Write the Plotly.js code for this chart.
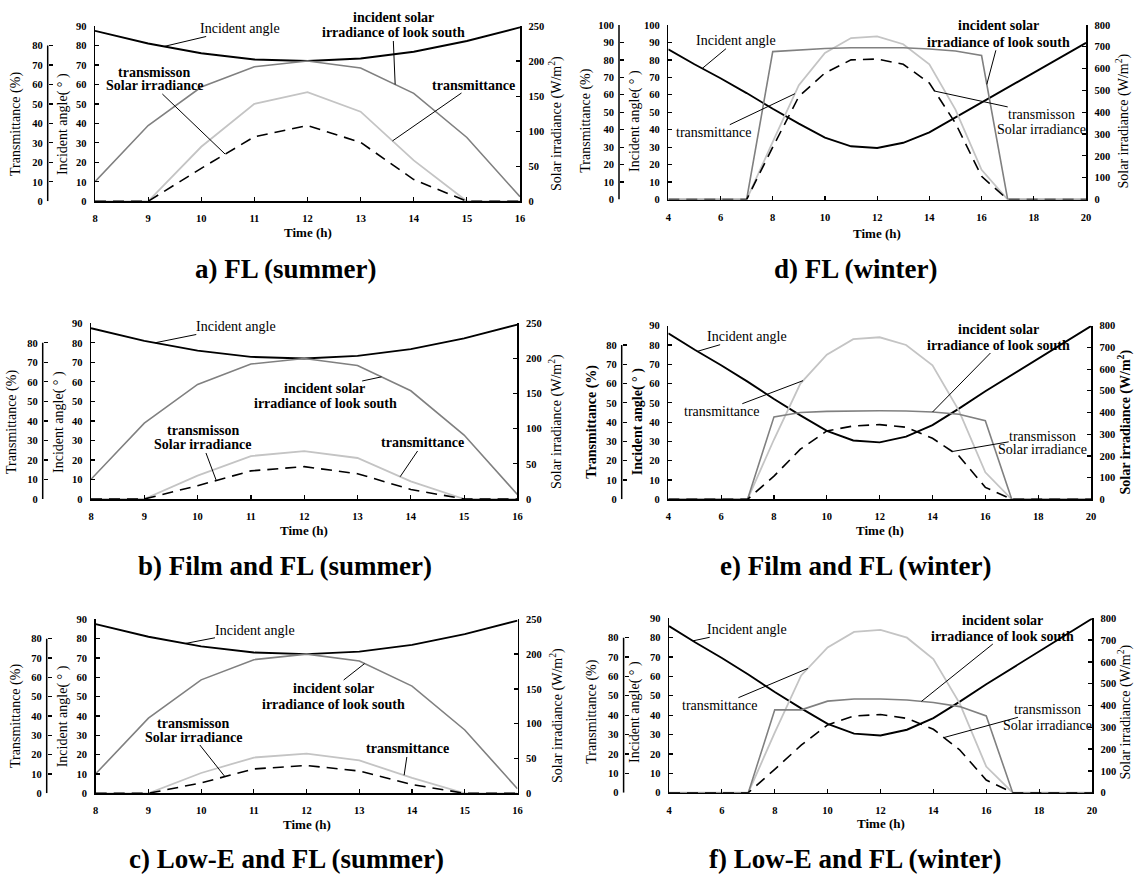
<!DOCTYPE html>
<html><head><meta charset="utf-8">
<script src="https://cdn.plot.ly/plotly-3.0.1.min.js"></script>
<style>html,body{margin:0;padding:0;background:#fff}#chart{width:1135px;height:876px}</style>
</head><body><div id="chart"></div>
<script>
// ---------- data ----------
const summerHours = [8, 9, 10, 11, 12, 13, 14, 15, 16];
const winterHours = [4, 5, 6, 7, 8, 9, 10, 11, 12, 13, 14, 15, 16, 17, 18, 19, 20];

const summerIncidentAngle = [87.5, 81, 76, 72.8, 72, 73.3, 76.8, 82.3, 89.3];
const summerSouthIrradiance = [28, 108, 163, 192, 200, 190, 154, 91, 6.5];

const aTransmittance = [0, 0, 28, 50, 56, 46, 21, 0, 0];
const aTransmitted = [0, 0, 47, 92, 108, 84, 31, 0, 0];
const bTransmittance = [0, 0, 12, 22, 24.5, 21, 9, 0, 0];
const bTransmitted = [0, 0, 19, 40, 46, 36, 13.5, 0, 0];
const cTransmittance = [0, 0, 10.5, 18.5, 20.5, 17, 8, 0, 0];
const cTransmitted = [0, 0, 15, 35, 40, 32, 12.5, 0, 0];

const winterIncidentAngle = [86, 77.5, 69.5, 61, 52, 43.5, 35.5, 30.5, 29.5, 32.5, 38.5, 47, 56, 64.5, 73, 81.5, 89.8];
const dSouthIrradiance = [0, 0, 0, 0, 678, 686, 692, 696, 696, 696, 690, 681, 660, 0, 0, 0, 0];
const dTransmittance = [0, 0, 0, 0, 33, 65.5, 84, 92.5, 93.5, 89, 77.5, 51.5, 17, 0, 0, 0, 0];
const dTransmitted = [0, 0, 0, 0, 240, 472, 580, 640, 644, 620, 534, 350, 106, 0, 0, 0, 0];
const eSouthIrradiance = [0, 0, 0, 0, 380, 400, 405, 408, 408, 407, 402, 392, 362, 0, 0, 0, 0];
const eTransmittance = [0, 0, 0, 0, 31, 60, 75, 83, 84, 80, 69.5, 46, 14, 0, 0, 0, 0];
const eTransmitted = [0, 0, 0, 0, 107, 231, 315, 338, 344, 332, 281, 200, 55, 0, 0, 0, 0];
const fSouthIrradiance = [0, 0, 0, 0, 380, 380, 420, 430, 430, 425, 414, 395, 352, 0, 0, 0, 0];
const fTransmittance = [0, 0, 0, 0, 31, 60.5, 75, 83, 84, 80, 69, 46, 13.5, 0, 0, 0, 0];
const fTransmitted = [0, 0, 0, 0, 107, 218, 311, 352, 359, 341, 291, 196, 58, 0, 0, 0, 0];

const captions = ['a) FL (summer)', 'b) Film and FL (summer)', 'c) Low-E and FL (summer)',
                  'd) FL (winter)', 'e) Film and FL (winter)', 'f) Low-E and FL (winter)'];
const labelAngle = 'Incident angle';
const labelSouth = ['incident solar', 'irradiance of look south'];
const labelTransmitted = ['transmisson', 'Solar irradiance'];
const labelTransmittance = 'transmittance';

// ---------- layout geometry ----------
const W = 1135, H = 876;
const FONT = 'Liberation Serif, Times New Roman, serif';

const panels = [
 {hours: summerHours, angle: summerIncidentAngle, south: summerSouthIrradiance, trans: aTransmittance, transm: aTransmitted,
  x0: 95, x1: 520, yb: 201.3, yt: 26, xmin: 8, xmax: 16, dx: 1, angMax: 90, wMax: 250, wStep: 50, tPos: 47.7, tMax: 80,
  cap: [285, 269], tTitleX: 16, aTitleX: 63, wTitleX: 555, titleY: 124, timeY: 232, boldTitles: false,
  callouts: [
   {lines: [labelAngle], cx: 240, cy: [28.5], series: 'angle', tx: 9.3, bold: false},
   {lines: labelSouth, cx: 393, cy: [17.5, 33], series: 'south', tx: 13.65, arrowLine: 1, bold: true},
   {lines: labelTransmitted, cx: 154, cy: [72, 86], series: 'transm', tx: 10.45, arrowLine: 1, bold: true},
   {lines: [labelTransmittance], cx: 473, cy: [85], series: 'trans', tx: 13.6, bold: true}]},
 {hours: summerHours, angle: summerIncidentAngle, south: summerSouthIrradiance, trans: bTransmittance, transm: bTransmitted,
  x0: 91, x1: 517.4, yb: 499, yt: 323.3, xmin: 8, xmax: 16, dx: 1, angMax: 90, wMax: 250, wStep: 50, tPos: 42.7, tMax: 80,
  cap: [285, 566], tTitleX: 12, aTitleX: 59, wTitleX: 555, titleY: 422, timeY: 530, boldTitles: false,
  callouts: [
   {lines: [labelAngle], cx: 236, cy: [326.5], series: 'angle', tx: 9.2, bold: false},
   {lines: labelSouth, cx: 325, cy: [389, 404], series: 'south', tx: 13.45, arrowLine: 0, bold: true},
   {lines: labelTransmitted, cx: 203, cy: [431, 445], series: 'transm', tx: 10.35, arrowLine: 1, bold: true},
   {lines: [labelTransmittance], cx: 423, cy: [443], series: 'trans', tx: 13.8, bold: true}]},
 {hours: summerHours, angle: summerIncidentAngle, south: summerSouthIrradiance, trans: cTransmittance, transm: cTransmitted,
  x0: 95.7, x1: 517.5, yb: 793.3, yt: 619.3, xmin: 8, xmax: 16, dx: 1, angMax: 90, wMax: 250, wStep: 50, tPos: 46.7, tMax: 80,
  cap: [286, 859], tTitleX: 16, aTitleX: 63.3, wTitleX: 556, titleY: 716, timeY: 824, boldTitles: false,
  callouts: [
   {lines: [labelAngle], cx: 255.5, cy: [630], series: 'angle', tx: 9.7, bold: false},
   {lines: labelSouth, cx: 333.5, cy: [688, 704], series: 'south', tx: 13.1, arrowLine: 0, bold: true},
   {lines: labelTransmitted, cx: 193.5, cy: [723, 737], series: 'transm', tx: 10.45, arrowLine: 1, bold: true},
   {lines: [labelTransmittance], cx: 408, cy: [749], series: 'trans', tx: 13.85, bold: true}]},
 {hours: winterHours, angle: winterIncidentAngle, south: dSouthIrradiance, trans: dTransmittance, transm: dTransmitted,
  x0: 668.3, x1: 1086, yb: 199.5, yt: 25, xmin: 4, xmax: 20, dx: 2, angMax: 100, wMax: 800, wStep: 100, tPos: 619, tMax: 100,
  cap: [855, 269], tTitleX: 585.7, aTitleX: 635, wTitleX: 1122.5, titleY: 121, timeY: 233, boldTitles: false,
  callouts: [
   {lines: [labelAngle], cx: 735.6, cy: [40.7], series: 'angle', tx: 5.3, bold: false},
   {lines: labelSouth, cx: 998, cy: [26, 42.3], series: 'south', tx: 16.2, arrowLine: 1, bold: true},
   {lines: [labelTransmittance], cx: 713, cy: [132.7], series: 'trans', tx: 8.85, bold: false},
   {lines: labelTransmitted, cx: 1041.7, cy: [114.3, 130], series: 'transm', tx: 14.2, arrowLine: 0, bold: false}]},
 {hours: winterHours, angle: winterIncidentAngle, south: eSouthIrradiance, trans: eTransmittance, transm: eTransmitted,
  x0: 668.3, x1: 1091, yb: 499.3, yt: 325.7, xmin: 4, xmax: 20, dx: 2, angMax: 90, wMax: 800, wStep: 100, tPos: 621.7, tMax: 80,
  cap: [855, 566], tTitleX: 591.7, aTitleX: 638.3, wTitleX: 1124.5, titleY: 422, timeY: 530, boldTitles: true,
  callouts: [
   {lines: [labelAngle], cx: 747.5, cy: [336.7], series: 'angle', tx: 5.1, bold: false},
   {lines: labelSouth, cx: 998.3, cy: [329.3, 345], series: 'south', tx: 14.0, arrowLine: 1, bold: true},
   {lines: [labelTransmittance], cx: 721.2, cy: [411.7], series: 'trans', tx: 9.1, bold: false},
   {lines: labelTransmitted, cx: 1042.7, cy: [436, 449.3], series: 'transm', tx: 14.75, arrowLine: 0, bold: false}]},
 {hours: winterHours, angle: winterIncidentAngle, south: fSouthIrradiance, trans: fTransmittance, transm: fTransmitted,
  x0: 669, x1: 1092, yb: 792.7, yt: 618.3, xmin: 4, xmax: 20, dx: 2, angMax: 90, wMax: 800, wStep: 100, tPos: 623.6, tMax: 80,
  cap: [855, 859], tTitleX: 591.7, aTitleX: 635, wTitleX: 1124.5, titleY: 712, timeY: 823, boldTitles: false,
  callouts: [
   {lines: [labelAngle], cx: 747.5, cy: [629.3], series: 'angle', tx: 4.9, bold: false},
   {lines: labelSouth, cx: 1002.8, cy: [620, 636], series: 'south', tx: 13.55, arrowLine: 1, bold: true},
   {lines: [labelTransmittance], cx: 719.4, cy: [705.7], series: 'trans', tx: 9.25, bold: false},
   {lines: labelTransmitted, cx: 1047.2, cy: [709.3, 725], series: 'transm', tx: 14.4, arrowLine: 0, bold: false}]}
];

// ---------- helpers ----------
function xid(i) { return i === 0 ? 'x' : 'x' + (i + 1); }
function yid(n) { return n === 1 ? 'y' : 'y' + n; }
function axKey(id) { return id.charAt(0) + 'axis' + id.slice(1); }
function interp(xs, ys, x) {
  for (let i = 0; i < xs.length - 1; i++) {
    if (x >= xs[i] && x <= xs[i + 1]) {
      const t = (x - xs[i]) / (xs[i + 1] - xs[i]);
      return ys[i] + t * (ys[i + 1] - ys[i]);
    }
  }
  return ys[ys.length - 1];
}

const layout = {
  width: W, height: H, autosize: false,
  margin: {l: 0, r: 0, t: 0, b: 0},
  paper_bgcolor: '#ffffff', plot_bgcolor: 'rgba(0,0,0,0)',
  showlegend: false,
  font: {family: FONT, color: '#000'},
  annotations: [], shapes: []
};
const traces = [];

panels.forEach((p, i) => {
  const xa = xid(i), ya = yid(3 * i + 1), yt = yid(3 * i + 2), yw = yid(3 * i + 3);
  const tickFont = {family: FONT, size: 10.5, color: '#000', weight: 'bold'};
  const common = {showgrid: false, zeroline: false, showline: true, linecolor: '#000', linewidth: 1.5,
                  ticks: 'inside', ticklen: 4, tickwidth: 1.2, tickcolor: '#000', tickfont: tickFont, fixedrange: true};
  layout[axKey(xa)] = Object.assign({}, common, {domain: [p.x0 / W, p.x1 / W], anchor: ya, range: [p.xmin, p.xmax],
      tickmode: 'linear', tick0: p.xmin, dtick: p.dx, ticklabelstandoff: 7});
  layout[axKey(ya)] = Object.assign({}, common, {domain: [1 - p.yb / H, 1 - p.yt / H], anchor: xa, range: [0, p.angMax],
      tickmode: 'linear', tick0: 0, dtick: 10, ticklabelstandoff: 5});
  const tv = []; for (let v = 0; v <= p.tMax; v += 10) tv.push(v);
  layout[axKey(yt)] = Object.assign({}, common, {showline: false, overlaying: ya, anchor: 'free', position: p.tPos / W,
      side: 'left', range: [0, p.angMax], tickmode: 'array', tickvals: tv, ticklabelstandoff: 5});
  layout[axKey(yw)] = Object.assign({}, common, {overlaying: ya, side: 'right', anchor: xa, range: [0, p.wMax],
      tickmode: 'linear', tick0: 0, dtick: p.wStep, ticklabelstandoff: 5});
  layout.shapes.push({type: 'line', xref: 'paper', yref: yt, x0: p.tPos / W, x1: p.tPos / W, y0: 0, y1: p.tMax,
      line: {color: '#000', width: 1.5}});

  traces.push({x: p.hours, y: p.angle, xaxis: xa, yaxis: ya, mode: 'lines', line: {color: '#000', width: 1.9}, hoverinfo: 'skip'});
  traces.push({x: p.hours, y: p.trans, xaxis: xa, yaxis: yt, mode: 'lines', line: {color: '#c4c4c4', width: 1.8}, hoverinfo: 'skip'});
  traces.push({x: p.hours, y: p.south, xaxis: xa, yaxis: yw, mode: 'lines', line: {color: '#808080', width: 1.6}, hoverinfo: 'skip'});
  traces.push({x: p.hours, y: p.transm, xaxis: xa, yaxis: yw, mode: 'lines', line: {color: '#000', width: 1.6, dash: '11px,7px'}, hoverinfo: 'skip'});

  // axis titles
  const tf = {family: FONT, size: 14, color: '#000', weight: p.boldTitles ? 'bold' : 'normal'};
  const vt = (txt, x) => layout.annotations.push({x: x / W, y: 1 - p.titleY / H, xref: 'paper', yref: 'paper', text: txt,
      textangle: -90, showarrow: false, xanchor: 'center', yanchor: 'middle', font: tf});
  vt('Transmittance (%)', p.tTitleX);
  vt('Incident angle( \u00b0 )', p.aTitleX);
  vt('Solar irradiance (W/m<sup>2</sup>)', p.wTitleX);
  layout.annotations.push({x: (p.x0 + p.x1) / 2 / W, y: 1 - p.timeY / H, xref: 'paper', yref: 'paper', text: 'Time (h)',
      showarrow: false, xanchor: 'center', yanchor: 'middle', font: {family: FONT, size: 13, color: '#000', weight: 'bold'}});
  layout.annotations.push({x: p.cap[0] / W, y: 1 - p.cap[1] / H, xref: 'paper', yref: 'paper', text: captions[i],
      showarrow: false, xanchor: 'center', yanchor: 'middle', font: {family: FONT, size: 27, color: '#000', weight: 'bold'}});

  // callouts
  p.callouts.forEach(c => {
    const s = {angle: [p.angle, ya, p.angMax], south: [p.south, yw, p.wMax],
               trans: [p.trans, yt, p.angMax], transm: [p.transm, yw, p.wMax]}[c.series];
    const val = interp(p.hours, s[0], c.tx);
    const px = p.x0 + (c.tx - p.xmin) / (p.xmax - p.xmin) * (p.x1 - p.x0);
    const py = p.yb - val / s[2] * (p.yb - p.yt);
    const font = {family: FONT, size: 14, color: '#000', weight: c.bold ? 'bold' : 'normal'};
    const al = c.arrowLine || 0;
    c.lines.forEach((ln, k) => {
      if (k === al) {
        layout.annotations.push({x: c.tx, y: val, xref: xa, yref: s[1], text: ln, showarrow: true, arrowhead: 0,
          arrowwidth: 1, arrowcolor: '#000', ax: c.cx - px, ay: c.cy[k] - py, standoff: 0, borderpad: 0, font: font});
      } else {
        layout.annotations.push({x: c.cx / W, y: 1 - c.cy[k] / H, xref: 'paper', yref: 'paper', text: ln,
          showarrow: false, xanchor: 'center', yanchor: 'middle', borderpad: 0, font: font});
      }
    });
  });
});

Plotly.newPlot('chart', traces, layout, {staticPlot: true, displayModeBar: false});
</script>
</body></html>
